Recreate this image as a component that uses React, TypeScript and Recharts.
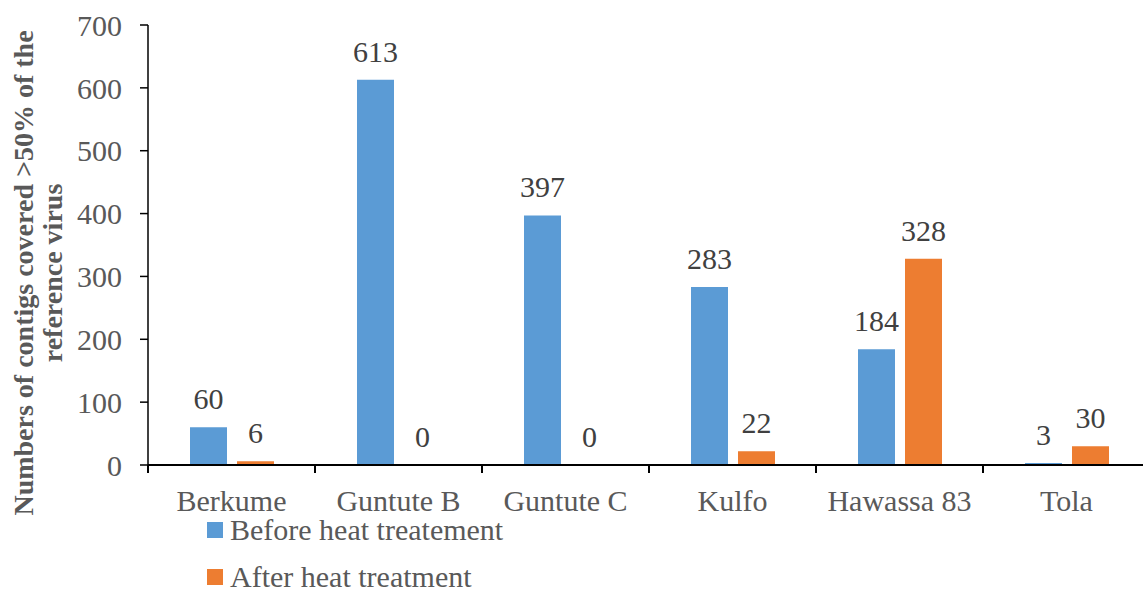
import { BarChart, Bar, XAxis, YAxis, LabelList } from 'recharts';

const categories = ['Berkume', 'Guntute B', 'Guntute C', 'Kulfo', 'Hawassa 83', 'Tola'];
const beforeValues = [60, 613, 397, 283, 184, 3];
const afterValues = [6, 0, 0, 22, 328, 30];
const yTicks = [0, 100, 200, 300, 400, 500, 600, 700];
const seriesNames = ['Before heat treatement', 'After heat treatment'];

const BLUE = '#5B9BD5';
const ORANGE = '#ED7D31';
const TEXT = '#595959';
const FONT = 'Liberation Serif';

const data = categories.map((name, i) => ({
  name,
  before: beforeValues[i],
  after: afterValues[i],
}));

const CHART_W = 1152;
const PLOT_W = CHART_W - 148 - 2;
const BAND = PLOT_W / categories.length;

// zero values still need their "0" label, so give them an invisible sliver
const zeroSliver = (v: any) => (Number(v) === 0 ? 0.01 : 0);

// category label plus tick marks at the band boundaries
function XTick(props: any) {
  const { x, y, payload, index } = props;
  const half = BAND / 2;
  return (
    <g>
      <line x1={x - half} x2={x - half} y1={y} y2={y + 8} stroke="#000" strokeWidth={2} />
      {index === categories.length - 1 && (
        <line x1={x + half} x2={x + half} y1={y} y2={y + 8} stroke="#000" strokeWidth={2} />
      )}
      <text x={x} y={y + 46} textAnchor="middle" fill={TEXT} fontSize={30} fontFamily={FONT}>
        {payload.value}
      </text>
    </g>
  );
}

function YLabel() {
  return (
    <text
      transform="translate(33,273) rotate(-90)"
      textAnchor="middle"
      fill={TEXT}
      fontSize={28}
      fontWeight={700}
      fontFamily={FONT}
    >
      <tspan x={0} y={0}>Numbers of contigs covered &gt;50% of the</tspan>
      <tspan x={0} y={29}>reference virus</tspan>
    </text>
  );
}

export default function App() {
  const colors = [BLUE, ORANGE];
  return (
    <div style={{ position: 'absolute', left: 0, top: 0, width: 1143, height: 590, overflow: 'hidden', background: '#fff' }}>
      <BarChart
        width={CHART_W}
        height={590}
        data={data}
        margin={{ top: 25, right: 2, left: 0, bottom: 85 }}
        barSize={37}
        barGap={10}
      >
        <XAxis
          dataKey="name"
          height={40}
          tickSize={0}
          tickMargin={0}
          tickLine={false}
          axisLine={{ stroke: '#000', strokeWidth: 2 }}
          tick={<XTick />}
          interval={0}
        />
        <YAxis
          width={148}
          domain={[0, 700]}
          ticks={yTicks}
          tickSize={8}
          tickMargin={18}
          axisLine={{ stroke: '#000', strokeWidth: 1.5 }}
          tickLine={{ stroke: '#000', strokeWidth: 1.5 }}
          tick={{ fill: TEXT, fontSize: 30, fontFamily: FONT }}
          label={{ content: <YLabel /> }}
        />
        <Bar dataKey="before" name={seriesNames[0]} fill={BLUE} minPointSize={zeroSliver} isAnimationActive={false}>
          <LabelList dataKey="before" position="top" offset={18} fill="#404040" fontSize={30} fontFamily={FONT} />
        </Bar>
        <Bar dataKey="after" name={seriesNames[1]} fill={ORANGE} minPointSize={zeroSliver} isAnimationActive={false}>
          <LabelList dataKey="after" position="top" offset={18} fill="#404040" fontSize={30} fontFamily={FONT} />
        </Bar>
      </BarChart>
      {seriesNames.map((n, i) => (
        <div
          key={n}
          style={{
            position: 'absolute',
            left: 207,
            top: 516 + i * 47,
            display: 'flex',
            alignItems: 'center',
            fontFamily: FONT,
            fontSize: 30,
            lineHeight: '28px',
            color: TEXT,
            whiteSpace: 'nowrap',
          }}
        >
          <span style={{ display: 'inline-block', width: 16, height: 16, background: colors[i], marginRight: 7 }} />
          {n}
        </div>
      ))}
    </div>
  );
}
